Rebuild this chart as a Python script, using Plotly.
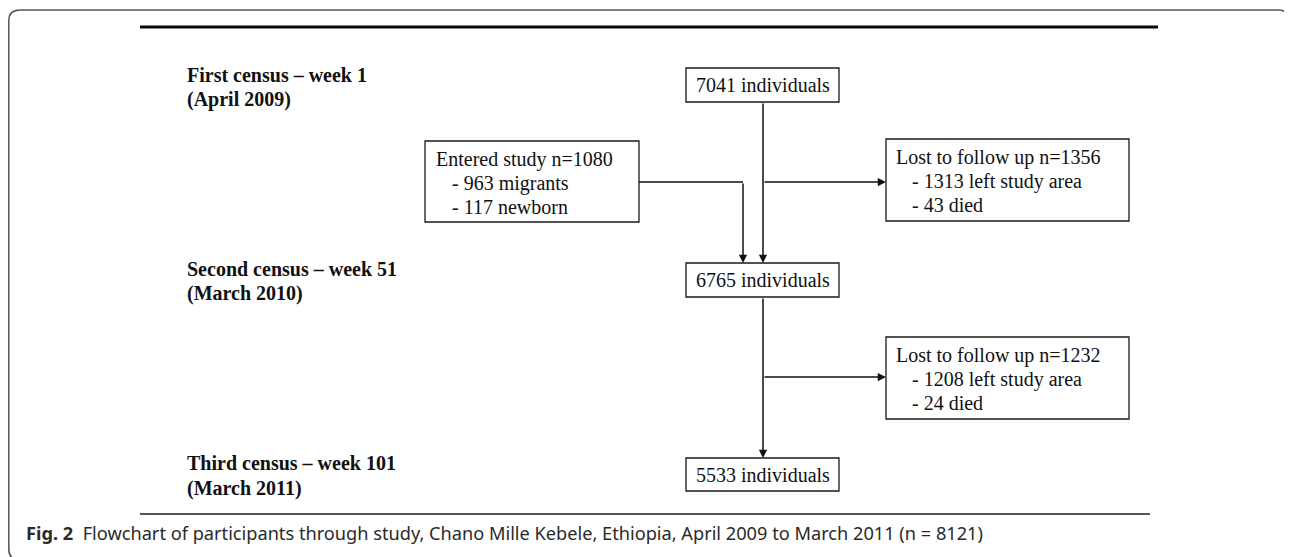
import plotly.graph_objects as go

W, H = 1292, 557
OFF = 8  # page body margin compensation

# ---- content ----
stage_titles = ["First census – week 1", "Second census – week 51", "Third census – week 101"]
stage_dates = ["(April 2009)", "(March 2010)", "(March 2011)"]
population = [7041, 6765, 5533]
entered_total = 1080
entered_parts = ["963 migrants", "117 newborn"]
lost_totals = [1356, 1232]
lost_left = [1313, 1208]
lost_died = [43, 24]
caption_bold = "Fig. 2"
caption_text = "Flowchart of participants through study, Chano Mille Kebele, Ethiopia, April 2009 to March 2011 (n = 8121)"

# ---- layout geometry (pixels) ----
stage_label_x = 185
stage_label_y = [(75, 99), (269, 293), (463, 488)]
pop_box = dict(x0=686, x1=839)
pop_box_y = [(68, 102), (263, 297), (458, 491)]
center_x = 763
entered_box = dict(x0=425, x1=639, y0=141, y1=222)
entered_line_y = [159, 183, 207]
lost_box_x = (886, 1129)
lost_box_y = [(139, 221), (337, 419)]
lost_line_y = [(157, 181, 205), (355, 379, 403)]
branch_y = [182, 377]
entered_drop_x = 743

SERIF = "Liberation Serif"
SANS = "Noto Sans"
INK = "#111111"

shapes = []
annotations = []

def rect(x0, y0, x1, y1, w=1.3):
    shapes.append(dict(type="rect", xref="x", yref="y", x0=x0, y0=y0, x1=x1, y1=y1,
                       line=dict(color="#1a1a1a", width=w), fillcolor="white", layer="above"))

def line(x0, y0, x1, y1, w=1.5, color="#111111"):
    shapes.append(dict(type="line", xref="x", yref="y", x0=x0, y0=y0, x1=x1, y1=y1,
                       line=dict(color=color, width=w)))

def arrow(xt, yt, xh, yh):
    annotations.append(dict(x=xh, y=yh, ax=xt, ay=yt, xref="x", yref="y", axref="x", ayref="y",
                            text="", showarrow=True, arrowhead=2, arrowsize=1.1, arrowwidth=1.5,
                            arrowcolor="#111111", standoff=0, startstandoff=0))

def text(x, y, s, size=20, family=SERIF, xanchor="left", color=INK):
    annotations.append(dict(x=x, y=y, xref="x", yref="y", text=s, showarrow=False,
                            xanchor=xanchor, yanchor="middle",
                            font=dict(family=family, size=size, color=color)))

# outer rounded frame (paper coordinates so it is not clipped)
def px(x):
    return (x - OFF) / W

def py(y):
    return 1 - (y - OFF) / H

r = 11
L, T, R, B = 8.8, 10, 1289, 560
pts = dict(
    a=(px(L + r), py(T)), b=(px(R - r), py(T)), c=(px(R), py(T)), d=(px(R), py(T + r)),
    e=(px(R), py(B - r)), f=(px(R), py(B)), g=(px(R - r), py(B)), h=(px(L + r), py(B)),
    i=(px(L), py(B)), j=(px(L), py(B - r)), k=(px(L), py(T + r)), l=(px(L), py(T)),
)
P = {k: f"{v[0]:.6f},{v[1]:.6f}" for k, v in pts.items()}
path = (f"M {P['a']} L {P['b']} Q {P['c']} {P['d']} L {P['e']} Q {P['f']} {P['g']} "
        f"L {P['h']} Q {P['i']} {P['j']} L {P['k']} Q {P['l']} {P['a']} Z")
shapes.append(dict(type="path", xref="paper", yref="paper", path=path,
                   line=dict(color="#555555", width=1.5), layer="below"))

# top / bottom rules
line(140, 27, 1158, 27, w=3, color="#0a0a0a")
line(140, 514, 1150, 514, w=2, color="#555555")

# stage labels
for (t, d), (y1, y2) in zip(zip(stage_titles, stage_dates), stage_label_y):
    text(stage_label_x, y1, f"<b>{t}</b>")
    text(stage_label_x, y2, f"<b>{d}</b>")

# connectors
line(entered_box["x1"], branch_y[0], entered_drop_x, branch_y[0])
arrow(entered_drop_x, branch_y[0], entered_drop_x, pop_box_y[1][0])
arrow(center_x, pop_box_y[0][1], center_x, pop_box_y[1][0])
arrow(center_x, pop_box_y[1][1], center_x, pop_box_y[2][0])
for by in branch_y:
    arrow(center_x, by, lost_box_x[0], by)

# population boxes
for n, (y0, y1) in zip(population, pop_box_y):
    rect(pop_box["x0"], y0, pop_box["x1"], y1)
    text(center_x, (y0 + y1) / 2, f"{n} individuals", xanchor="center")

# entered box
rect(entered_box["x0"], entered_box["y0"], entered_box["x1"], entered_box["y1"])
text(434, entered_line_y[0], f"Entered study n={entered_total}")
for part, y in zip(entered_parts, entered_line_y[1:]):
    text(450, y, f"- {part}")

# lost boxes
for i in range(2):
    y0, y1 = lost_box_y[i]
    rect(lost_box_x[0], y0, lost_box_x[1], y1)
    ly = lost_line_y[i]
    text(894, ly[0], f"Lost to follow up n={lost_totals[i]}")
    text(910, ly[1], f"- {lost_left[i]} left study area")
    text(910, ly[2], f"- {lost_died[i]} died")

# caption
annotations.append(dict(x=24, y=533, xref="x", yref="y", showarrow=False, xanchor="left", yanchor="middle",
                        text=f"<b>{caption_bold}</b>  {caption_text}",
                        font=dict(family=SANS, size=18.2, color="#2a2a2a")))

fig = go.Figure()
fig.update_layout(
    width=W, height=H, margin=dict(l=0, r=0, t=0, b=0),
    paper_bgcolor="white", plot_bgcolor="white",
    xaxis=dict(range=[OFF, W + OFF], visible=False, fixedrange=True),
    yaxis=dict(range=[H + OFF, OFF], visible=False, fixedrange=True),
    shapes=shapes, annotations=annotations, showlegend=False,
)
fig.write_html("out.html")
